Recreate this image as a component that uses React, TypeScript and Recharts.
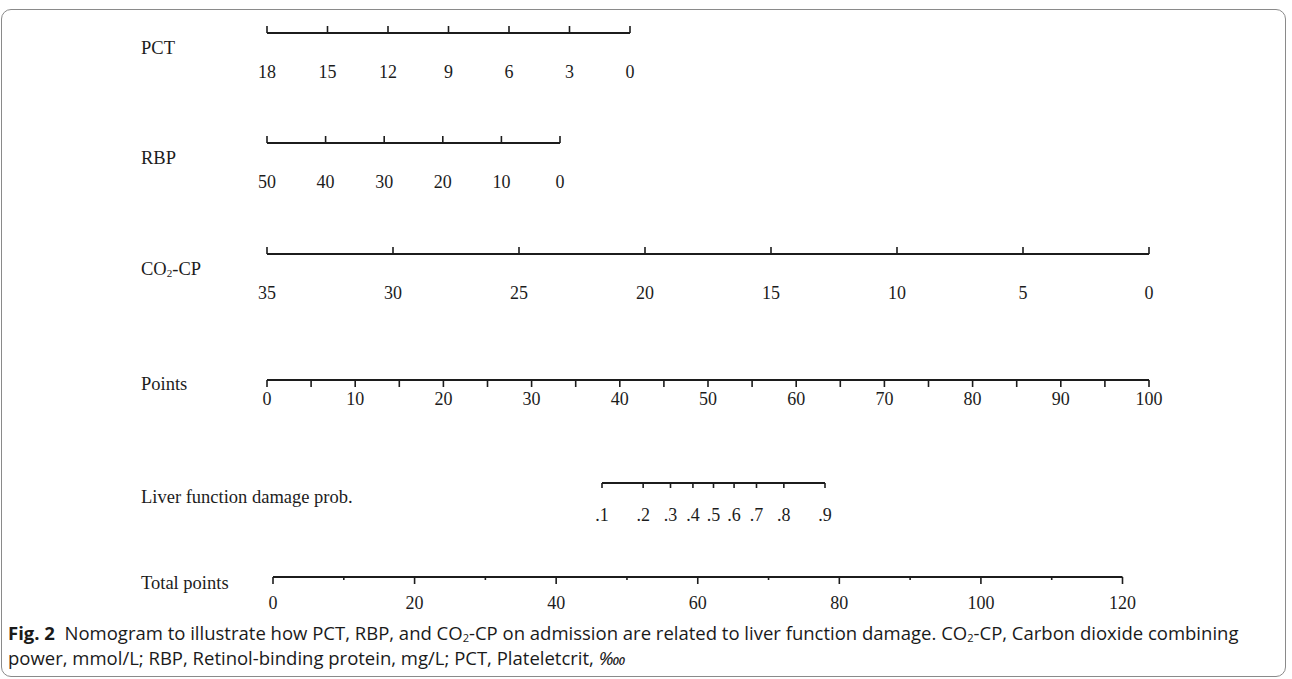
import React from 'react';
import { LineChart, XAxis, YAxis } from 'recharts';

// ---- data ----
const pctTicks = [18, 15, 12, 9, 6, 3, 0];
const rbpTicks = [50, 40, 30, 20, 10, 0];
const co2Ticks = [35, 30, 25, 20, 15, 10, 5, 0];
const pointsTicks = [0, 5, 10, 15, 20, 25, 30, 35, 40, 45, 50, 55, 60, 65, 70, 75, 80, 85, 90, 95, 100];
const pointsLabels = [0, 10, 20, 30, 40, 50, 60, 70, 80, 90, 100];
const probTicks = [0.1, 0.2, 0.3, 0.4, 0.5, 0.6, 0.7, 0.8, 0.9];
const probLabels = ['.1', '.2', '.3', '.4', '.5', '.6', '.7', '.8', '.9'];
const totalTicks = [0, 10, 20, 30, 40, 50, 60, 70, 80, 90, 100, 110, 120];
const totalLabels = [0, 20, 40, 60, 80, 100, 120];

const logit = (p: number) => Math.log(p / (1 - p));
const probLogits = probTicks.map(logit);

// ---- layout ----
const W = 1292;
const H = 679;
const SERIF = '"Liberation Serif", "Times New Roman", serif';
const INK = '#1c1c1c';

type Row = {
  id: string;
  ticks: number[];
  domain: [number, number];
  reversed: boolean;
  x0: number;
  x1: number;
  lineY: number;
  dir: number; // -1 up, 1 down
  majorLen: number;
  minorLen: number;
  labelDy: number;
  isMajor: (v: number) => boolean;
  showLabel: (v: number) => boolean;
  fmt: (v: number) => string;
};

const rows: Row[] = [
  {
    id: 'pct', ticks: pctTicks, domain: [0, 18], reversed: true, x0: 267, x1: 630, lineY: 33,
    dir: -1, majorLen: 7, minorLen: 7, labelDy: 39,
    isMajor: () => true, showLabel: () => true, fmt: (v) => String(v),
  },
  {
    id: 'rbp', ticks: rbpTicks, domain: [0, 50], reversed: true, x0: 267, x1: 560, lineY: 143,
    dir: -1, majorLen: 7, minorLen: 7, labelDy: 39,
    isMajor: () => true, showLabel: () => true, fmt: (v) => String(v),
  },
  {
    id: 'co2', ticks: co2Ticks, domain: [0, 35], reversed: true, x0: 267, x1: 1149, lineY: 254,
    dir: -1, majorLen: 7, minorLen: 7, labelDy: 39,
    isMajor: () => true, showLabel: () => true, fmt: (v) => String(v),
  },
  {
    id: 'points', ticks: pointsTicks, domain: [0, 100], reversed: false, x0: 267, x1: 1149, lineY: 380,
    dir: 1, majorLen: 7, minorLen: 7, labelDy: 19,
    isMajor: () => true, showLabel: (v) => pointsLabels.includes(v), fmt: (v) => String(v),
  },
  {
    id: 'prob', ticks: probLogits, domain: [probLogits[0], probLogits[probLogits.length - 1]], reversed: false,
    x0: 602, x1: 825, lineY: 483,
    dir: 1, majorLen: 5, minorLen: 5, labelDy: 32,
    isMajor: () => true, showLabel: () => true,
    fmt: (v) => {
      const i = probLogits.findIndex((t) => Math.abs(t - v) < 1e-6);
      return i >= 0 ? probLabels[i] : '';
    },
  },
  {
    id: 'total', ticks: totalTicks, domain: [0, 120], reversed: false, x0: 273, x1: 1122.5, lineY: 577,
    dir: 1, majorLen: 7, minorLen: 3, labelDy: 26,
    isMajor: (v) => totalLabels.includes(v), showLabel: (v) => totalLabels.includes(v), fmt: (v) => String(v),
  },
];

const makeTick = (row: Row) => (props: any) => {
  const { x, y, payload } = props;
  const v = payload.value as number;
  const len = row.isMajor(v) ? row.majorLen : row.minorLen;
  return (
    <g>
      <line x1={x} y1={y} x2={x} y2={y + row.dir * len} stroke={INK} strokeWidth={1.6} />
      {row.showLabel(v) && (
        <text
          x={x}
          y={y + row.labelDy}
          textAnchor="middle"
          dominantBaseline="central"
          fontFamily={SERIF}
          fontSize={18}
          fill={INK}
        >
          {row.fmt(v)}
        </text>
      )}
    </g>
  );
};

const AXIS_H = 20;

function AxisRow({ row }: { row: Row }) {
  return (
    <div style={{ position: 'absolute', left: 0, top: 0 }}>
      <LineChart
        width={W}
        height={H}
        data={row.ticks.map((v) => ({ x: v, y: 0 }))}
        margin={{ top: row.lineY - AXIS_H, left: row.x0, right: W - row.x1, bottom: H - row.lineY - 40 }}
      >
        <XAxis
          dataKey="x"
          type="number"
          orientation="top"
          height={AXIS_H}
          domain={row.domain}
          reversed={row.reversed}
          ticks={row.ticks}
          interval={0}
          allowDataOverflow
          tickLine={false}
          tickSize={0}
          tickMargin={0}
          axisLine={{ stroke: INK, strokeWidth: 2 }}
          tick={makeTick(row)}
        />
        <YAxis hide domain={[0, 1]} />
      </LineChart>
    </div>
  );
}

const labelStyle = (cy: number): React.CSSProperties => ({
  position: 'absolute',
  left: 141,
  top: cy - 11,
  height: 22,
  lineHeight: '22px',
  fontFamily: SERIF,
  fontSize: 18.5,
  color: INK,
  whiteSpace: 'nowrap',
});

const subStyle: React.CSSProperties = { fontSize: '0.6em', verticalAlign: '-0.2em', lineHeight: 0 };

export default function App() {
  return (
    <div style={{ position: 'absolute', left: 0, top: 0, width: W, height: H, background: '#fff', overflow: 'hidden' }}>
      <div
        style={{
          position: 'absolute', left: 1, top: 9, width: 1285, height: 668,
          border: '1px solid #8a8a8a', borderRadius: 10, boxSizing: 'border-box',
        }}
      />
      <div style={labelStyle(48)}>PCT</div>
      <div style={labelStyle(158)}>RBP</div>
      <div style={labelStyle(269)}>
        CO<sub style={subStyle}>2</sub>-CP
      </div>
      <div style={labelStyle(384)}>Points</div>
      <div style={labelStyle(497)}>Liver function damage prob.</div>
      <div style={labelStyle(583)}>Total points</div>
      {rows.map((r) => (
        <AxisRow key={r.id} row={r} />
      ))}
      <div
        style={{
          position: 'absolute', left: 8, top: 620, width: 1278,
          fontFamily: '"Open Sans", "Noto Sans", sans-serif', fontSize: 18.5, color: '#1a1a1a',
          whiteSpace: 'nowrap',
        }}
      >
        <div style={{ height: 25, lineHeight: '25px' }}>
          <b>Fig. 2</b>&nbsp; Nomogram to illustrate how PCT, RBP, and CO<sub style={subStyle}>2</sub>-CP on admission are related to liver function damage. CO<sub style={subStyle}>2</sub>-CP, Carbon dioxide combining
        </div>
        <div style={{ height: 25, lineHeight: '25px' }}>
          power, mmol/L; RBP, Retinol-binding protein, mg/L; PCT, Plateletcrit, <i>‱</i>
        </div>
      </div>
    </div>
  );
}
